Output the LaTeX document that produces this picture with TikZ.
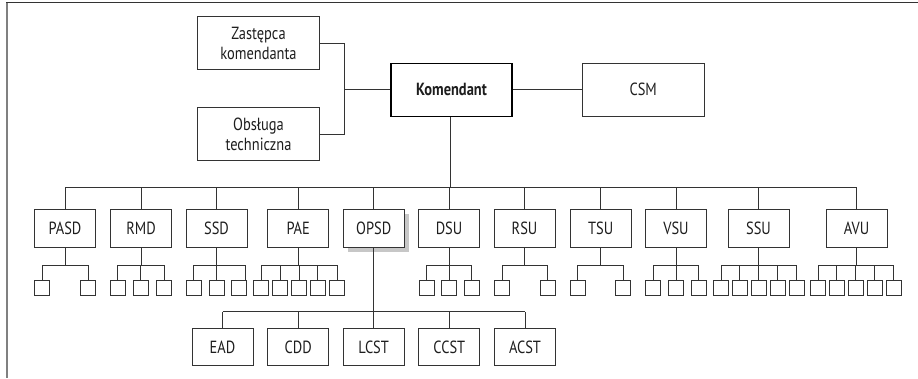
\documentclass[tikz,border=0pt]{standalone}
\usepackage{fontspec}
\setmainfont{PT Sans}[FakeStretch=0.82]
\usetikzlibrary{shadows}
\definecolor{ink}{HTML}{333333}
\definecolor{txt}{HTML}{1E1E1E}
\begin{document}
\begin{tikzpicture}[x=1pt,y=-1pt,
  every node/.style={text=txt,font=\fontsize{17.6}{20}\selectfont},
  box/.style={draw=ink,line width=0.9pt,fill=white,inner sep=0pt,align=center},
  bigbox/.style={box,minimum width=121.5pt,minimum height=53pt},
  unit/.style={box,minimum width=61pt,minimum height=38pt},
  leaf/.style={draw=ink,line width=0.9pt,fill=white,inner sep=0pt,minimum width=15pt,minimum height=15pt},
  link/.style={draw=ink,line width=0.9pt}]
\useasboundingbox (0,0) rectangle (918,378);

% frame
\draw[draw=black!50,line width=2pt] (7,2.5) -- (7,378);
\draw[draw=ink,line width=1pt] (6,2.5) -- (918,2.5);

% top level
\node[bigbox] (zast) at (258.5,43) {Zastępca\\komendanta};
\node[bigbox] (obs) at (258.5,134) {Obsługa\\techniczna};
\node[bigbox,draw=black,line width=1.6pt,font=\fontsize{17.6}{20}\selectfont\bfseries] (kom) at (451.5,89.8) {Komendant};
\node[bigbox] (csm) at (643.2,89.8) {CSM};

\coordinate (j) at (344.3,89.8);
\draw[link] (zast.east) -| (j) |- (obs.east);
\draw[link] (j) -- (kom.west);
\draw[link] (kom.east) -- (csm.west);

% second level
\coordinate (bus) at (0,187.3);
\node[unit] (pasd) at (65,228.3) {PASD};
\node[unit] (rmd) at (141,228.3) {RMD};
\node[unit] (ssd) at (216.5,228.3) {SSD};
\node[unit] (pae) at (298.2,228.3) {PAE};
\node[unit,drop shadow={shadow xshift=4.5pt,shadow yshift=-4.5pt,fill=black!22,opacity=1}] (opsd) at (373.7,228.3) {OPSD};
\node[unit] (dsu) at (449,228.3) {DSU};
\node[unit] (rsu) at (524.5,228.3) {RSU};
\node[unit] (tsu) at (600.7,228.3) {TSU};
\node[unit] (vsu) at (676,228.3) {VSU};
\node[unit] (ssu) at (758.5,228.3) {SSU};
\node[unit] (avu) at (856.5,228.3) {AVU};

\draw[link] (pasd.north |- bus) -- (avu.north |- bus);
\draw[link] ([xshift=-1.5pt]kom.south) -- ([xshift=-1.5pt]kom.south |- bus);
\foreach \n in {pasd,rmd,ssd,pae,opsd,dsu,rsu,tsu,vsu,ssu,avu}
  \draw[link] (\n.north) -- (\n.north |- bus);

% leaf units
\coordinate (sub) at (0,265);
\foreach \p/\list in {
  pasd/{42.3,88},
  rmd/{117.8,140.8,164},
  ssd/{193.8,216.8,239},
  pae/{261,280.2,299.2,317.8,337},
  dsu/{426.5,449.3,471.7},
  rsu/{502.2,547.7},
  tsu/{577.8,623.2},
  vsu/{653.2,676,698.7},
  ssu/{721.2,739.8,758.8,777.8,796.8},
  avu/{818.2,836.8,855.8,874.8,893.8}} {
  \foreach \x [count=\i] in \list {
    \node[leaf] (\p-\i) at (\x,287.7) {};
  }
  \draw[link] (\p.south) -- (\p.south |- sub);
}
\foreach \p/\k in {pasd/2,rmd/3,pae/5,dsu/3,rsu/2,tsu/2,vsu/3,ssu/5,avu/5} {
  \foreach \i in {1,...,\k}
    \draw[link] (\p-\i.north) -- (\p-\i.north |- sub);
  \draw[link] (\p-1.north |- sub) -- (\p-\k.north |- sub);
}
% the SSD branch meets its last unit near the right edge
\draw[link] (ssd-1.north) -- (ssd-1.north |- sub);
\draw[link] (ssd-2.north) -- (ssd-2.north |- sub);
\draw[link] ([xshift=6pt]ssd-3.north) -- ([xshift=6pt]ssd-3.north |- sub);
\draw[link] (ssd-1.north |- sub) -- ([xshift=6pt]ssd-3.north |- sub);

% units under OPSD
\coordinate (low) at (0,311.7);
\node[unit,minimum height=37.4pt] (ead) at (222.5,347) {EAD};
\node[unit,minimum height=37.4pt] (cdd) at (298.2,347) {CDD};
\node[unit,minimum height=37.4pt] (lcst) at (373.7,347) {LCST};
\node[unit,minimum height=37.4pt] (ccst) at (449.3,347) {CCST};
\node[unit,minimum height=37.4pt] (acst) at (525,347) {ACST};
\draw[link] (opsd.south) -- (lcst.north);
\draw[link] (ead.north |- low) -- (acst.north |- low);
\foreach \n in {ead,cdd,ccst,acst}
  \draw[link] (\n.north) -- (\n.north |- low);
\end{tikzpicture}
\end{document}
